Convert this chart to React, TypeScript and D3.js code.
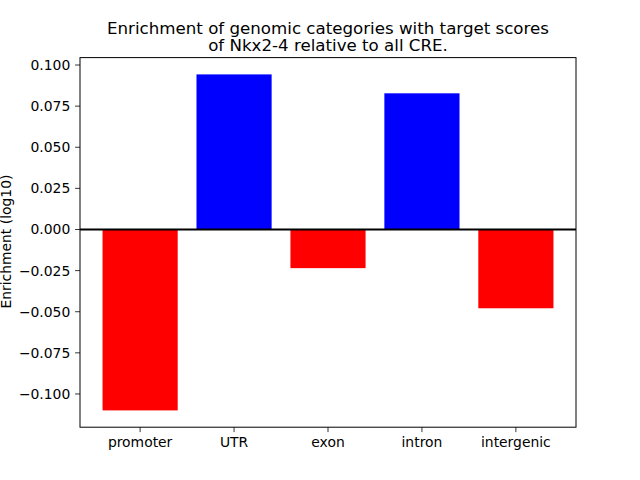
import React from "react";
import * as d3 from "d3";

const categories = ["promoter", "UTR", "exon", "intron", "intergenic"];
const values = [-0.110, 0.0943, -0.0235, 0.0828, -0.0479];
const yTicks = [-0.1, -0.075, -0.05, -0.025, 0, 0.025, 0.05, 0.075, 0.1];
const titleLines = [
  "Enrichment of genomic categories with target scores",
  "of Nkx2-4 relative to all CRE.",
];
const yLabel = "Enrichment (log10)";

export default function App() {
  const W = 640, H = 480;
  const left = 80, right = 576, top = 57.6, bottom = 427.2;
  const font = "DejaVu Sans, sans-serif";
  const fs = 13.9;

  const barW = 0.8;
  const xMin = -barW / 2, xMax = categories.length - 1 + barW / 2;
  const xPad = (xMax - xMin) * 0.05;
  const x = d3.scaleLinear().domain([xMin - xPad, xMax + xPad]).range([left, right]);

  const vMin = Math.min(0, d3.min(values)!), vMax = Math.max(0, d3.max(values)!);
  const yPad = (vMax - vMin) * 0.05;
  const y = d3.scaleLinear().domain([vMin - yPad, vMax + yPad]).range([bottom, top]);

  const fmt = (v: number) => {
    const s = d3.format(".3f")(Math.abs(v) < 1e-9 ? 0 : v);
    return s.replace("-", "\u2212");
  };

  return (
    <svg width={W} height={H} style={{ display: "block", position: "absolute", left: 0, top: 0 }}>
      <rect x={0} y={0} width={W} height={H} fill="white" />
      {values.map((v, i) => {
        const x0 = x(i - barW / 2), x1 = x(i + barW / 2);
        const y0 = y(Math.max(0, v)), y1 = y(Math.min(0, v));
        return (
          <rect key={i} x={x0} y={y0} width={x1 - x0} height={y1 - y0} fill={v >= 0 ? "#0000ff" : "#ff0000"} />
        );
      })}
      <line x1={left} x2={right} y1={y(0)} y2={y(0)} stroke="black" strokeWidth={2} />
      <rect x={left} y={top} width={right - left} height={bottom - top} fill="none" stroke="black" strokeWidth={1} />
      {yTicks.map((t, i) => (
        <g key={i}>
          <line x1={left - 4.9} x2={left} y1={y(t)} y2={y(t)} stroke="black" strokeWidth={0.8} />
          <text x={left - 9.7} y={y(t)} dy="0.36em" textAnchor="end" fontFamily={font} fontSize={fs}>{fmt(t)}</text>
        </g>
      ))}
      {categories.map((c, i) => (
        <g key={c}>
          <line x1={x(i)} x2={x(i)} y1={bottom} y2={bottom + 4.9} stroke="black" strokeWidth={0.8} />
          <text x={x(i)} y={bottom + 9.7} dy="0.76em" textAnchor="middle" fontFamily={font} fontSize={fs}>{c}</text>
        </g>
      ))}
      <text transform={`translate(${6},${(top + bottom) / 2 - 0.8}) rotate(-90)`} textAnchor="middle" dy="0.35em" fontFamily={font} fontSize={fs}>{yLabel}</text>
      {titleLines.map((l, i) => (
        <text key={i} x={(left + right) / 2} y={top - 6.5 - (titleLines.length - 1 - i) * 16.7} textAnchor="middle" fontFamily={font} fontSize={16.67}>{l}</text>
      ))}
    </svg>
  );
}
